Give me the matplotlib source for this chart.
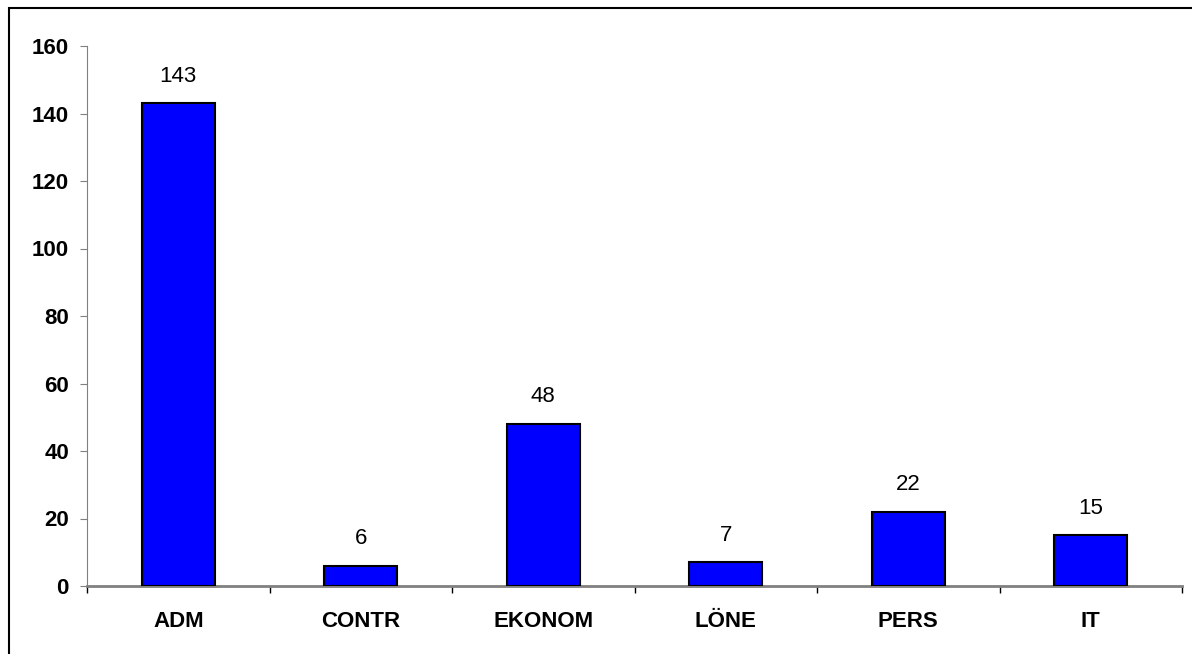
import matplotlib
matplotlib.use("Agg")
import matplotlib.pyplot as plt
from matplotlib.patches import Rectangle

plt.rcParams['font.family'] = ['Liberation Sans', 'DejaVu Sans']

categories = ["ADM", "CONTR", "EKONOM", "LÖNE", "PERS", "IT"]
values = [143, 6, 48, 7, 22, 15]
yticks = [0, 20, 40, 60, 80, 100, 120, 140, 160]

fig = plt.figure(figsize=(11.92, 6.54), dpi=100)
ax = fig.add_axes([87/1192, 1 - 586/654, (1182 - 87)/1192, (586 - 46)/654])

x = range(len(categories))
ax.bar(x, values, width=0.4, color="#0000ff", edgecolor="black", linewidth=1.5, zorder=3)
for xi, v in zip(x, values):
    ax.annotate(str(v), (xi, v), xytext=(0, 12), textcoords="offset points",
                ha="center", va="bottom", fontsize=16)

ax.set_xlim(-0.5, len(categories) - 0.5)
ax.set_ylim(0, 160)
ax.set_yticks(yticks)
ax.set_yticklabels([str(t) for t in yticks], fontsize=16, fontweight="bold")
ax.set_xticks([i - 0.5 for i in range(len(categories) + 1)])
ax.set_xticklabels([])
ax.set_xticks(list(x), minor=True)
ax.set_xticklabels(categories, minor=True, fontsize=16, fontweight="bold")
ax.tick_params(axis="x", which="minor", length=0, pad=18)
ax.tick_params(axis="x", which="major", length=5, direction="out", color="black", width=1)
ax.tick_params(axis="y", length=5, direction="out", color="#808080", pad=8)

for s in ["top", "right"]:
    ax.spines[s].set_visible(False)
ax.spines["left"].set_color("#808080")
ax.spines["bottom"].set_color("#808080")
ax.spines["bottom"].set_linewidth(2)

# chart frame: left and top edges visible, rest runs off the image
fig.patches.append(Rectangle((9/1192, -0.1), 1.2, 1.1 - 8/654,
                             transform=fig.transFigure, fill=False,
                             edgecolor="black", linewidth=1.5))

fig.savefig("out.png", dpi=100)
